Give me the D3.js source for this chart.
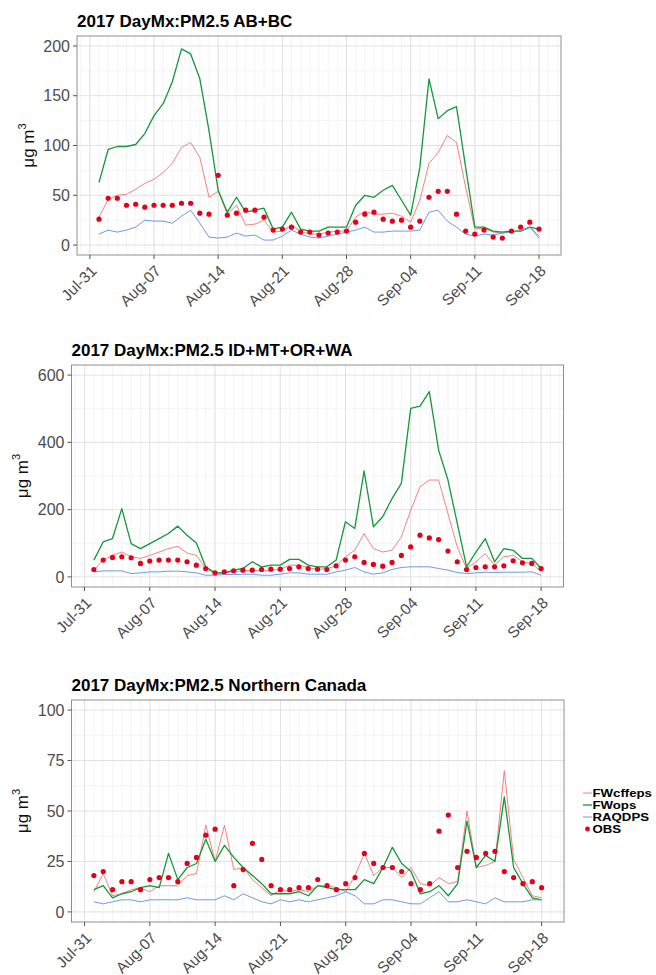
<!DOCTYPE html>
<html><head><meta charset="utf-8">
<script src="https://cdn.jsdelivr.net/npm/d3@7"></script>
<style>
body{margin:0;background:#fff}
svg{display:block}
text{font-family:"Liberation Sans",Arial,Helvetica,sans-serif}
</style>
</head><body>
<svg id="chart" width="656" height="975"></svg>
<script>
// ---------------- DATA ----------------
const dates = ["2017-08-01","2017-08-02","2017-08-03","2017-08-04","2017-08-05","2017-08-06","2017-08-07",
"2017-08-08","2017-08-09","2017-08-10","2017-08-11","2017-08-12","2017-08-13","2017-08-14",
"2017-08-15","2017-08-16","2017-08-17","2017-08-18","2017-08-19","2017-08-20","2017-08-21",
"2017-08-22","2017-08-23","2017-08-24","2017-08-25","2017-08-26","2017-08-27","2017-08-28",
"2017-08-29","2017-08-30","2017-08-31","2017-09-01","2017-09-02","2017-09-03","2017-09-04",
"2017-09-05","2017-09-06","2017-09-07","2017-09-08","2017-09-09","2017-09-10","2017-09-11",
"2017-09-12","2017-09-13","2017-09-14","2017-09-15","2017-09-16","2017-09-17","2017-09-18"];

const tickDates = ["2017-07-31","2017-08-07","2017-08-14","2017-08-21","2017-08-28","2017-09-04","2017-09-11","2017-09-18"];
const tickLabels = ["Jul-31","Aug-07","Aug-14","Aug-21","Aug-28","Sep-04","Sep-11","Sep-18"];

const seriesNames = ["FWcffeps","FWops","RAQDPS","OBS"];
const panelTitles = ["2017 DayMx:PM2.5 AB+BC","2017 DayMx:PM2.5 ID+MT+OR+WA","2017 DayMx:PM2.5 Northern Canada"];

// Panel 1: AB+BC
const abbcFWcffeps = [28,46,50,51,56,62,66,73,82,98,103,88,48,54,31,40,20,21,25,13,14,20,14,11,11,13,
  14,14,28,34,31,31,32,29,23,45,82,93,110,103,58,16,17,13,12,14,14,18,9];
const abbcFWops = [63,96,99,99,101,112,130,142,164,197,192,167,115,55,33,48,33,35,37,16,18,33,16,14,14,18,
  18,18,40,50,48,55,60,45,30,78,167,127,135,139,78,18,18,14,13,14,14,18,16];
const abbcRAQDPS = [11,15,13,15,18,25,24,24,22,29,35,22,8,7,8,12,9,10,5,5,9,15,11,8,7,9,
  11,13,15,18,13,13,14,14,14,15,33,35,24,18,11,9,11,10,12,13,14,18,7];
const abbcOBS = [26,47,47,40,41,38,40,40,40,42,42,32,31,70,30,32,35,35,28,15,16,18,13,13,10,12,
  13,14,23,31,33,26,24,25,18,24,48,54,54,31,14,11,15,8,7,14,18,23,16];

// Panel 2: ID+MT+OR+WA
const pnwFWcffeps = [20,50,64,74,60,55,64,74,84,91,71,64,25,10,12,15,18,20,18,20,22,35,35,28,22,25,
  32,60,79,129,84,74,79,119,198,268,288,288,188,89,25,45,69,35,60,64,45,40,15];
const pnwFWops = [50,104,114,203,99,84,99,114,129,151,124,101,30,12,12,20,25,45,30,35,35,52,52,35,30,30,
  50,164,144,315,149,179,233,278,501,508,551,377,288,159,30,74,114,45,84,79,55,55,25];
const pnwRAQDPS = [15,18,18,18,10,12,15,15,17,17,15,12,5,5,7,7,8,8,5,5,8,12,12,8,8,8,
  15,20,28,15,8,12,22,28,30,30,30,25,20,13,10,12,14,13,14,14,14,15,5];
const pnwOBS = [22,50,58,60,57,40,47,50,50,50,45,35,25,12,15,18,20,20,22,23,23,25,30,25,23,22,
  33,50,60,43,37,32,43,64,89,124,116,111,77,45,22,28,30,30,33,48,42,40,25];

// Panel 3: Northern Canada
const ncFWcffeps = [10,19,8,9,11,12,10,13,13,13,18,19,43,25,43,21,22,16,12,8,11,10,11,10,13,13,
  12,10,18,29,18,22,22,17,22,14,13,17,14,15,50,22,23,25,70,26,17,8,7];
const ncFWops = [11,13,7,9,10,12,13,12,29,16,22,24,36,25,33,27,22,18,14,9,9,9,10,8,13,12,
  11,11,11,16,14,22,32,24,20,9,10,13,8,14,45,22,28,25,57,22,14,7,6];
const ncRAQDPS = [5,4,5,6,6,5,6,6,6,6,7,6,6,6,8,6,9,7,5,4,6,5,6,5,6,7,
  8,10,8,4,4,6,6,5,4,4,7,10,5,5,6,5,4,7,5,5,5,6,6];
const ncOBS = [18,20,11,15,15,11,16,17,17,15,24,27,38,41,null,13,21,34,26,13,11,11,12,12,16,13,
  11,14,17,29,24,22,22,20,14,11,14,40,48,22,30,27,29,30,20,17,14,15,12];

const yLimits = [[0,200],[0,600],[0,100]];
const yMajor = [[0,50,100,150,200],[0,200,400,600],[0,25,50,75,100]];
const yMinor = [[25,75,125,175],[100,300,500],[12.5,37.5,62.5,87.5]];

// ---------------- LAYOUT / STYLE ----------------
const colors = {FWcffeps:"#f07474", FWops:"#13983a", RAQDPS:"#5b90e4", OBS:"#e3001b"};
const widths = {FWcffeps:0.9, FWops:1.3, RAQDPS:0.9};
const panels = [
  {left:77, right:561, top:36, bottom:255, ytitleX:28, title:panelTitles[0],
   series:[abbcFWcffeps,abbcFWops,abbcRAQDPS,abbcOBS]},
  {left:71.5, right:563.5, top:365, bottom:587, ytitleX:22, title:panelTitles[1],
   series:[pnwFWcffeps,pnwFWops,pnwRAQDPS,pnwOBS]},
  {left:71.5, right:564, top:700, bottom:922, ytitleX:22, title:panelTitles[2],
   series:[ncFWcffeps,ncFWops,ncRAQDPS,ncOBS]}
];

const svg = d3.select("#chart");
const parse = d3.utcParse("%Y-%m-%d");
const xDates = dates.map(parse);
const dayMs = 86400000;
const xMin = d3.min(xDates), xMax = d3.max(xDates);
const xPad = (xMax - xMin) * 0.05;
const allDays = d3.utcDay.range(new Date(+xMin - xPad), new Date(+xMax + xPad + dayMs));

panels.forEach((p, i) => {
  const lim = yLimits[i];
  const yPad = (lim[1] - lim[0]) * 0.05;
  const x = d3.scaleUtc().domain([new Date(+xMin - xPad), new Date(+xMax + xPad)]).range([p.left, p.right]);
  const y = d3.scaleLinear().domain([lim[0] - yPad, lim[1] + yPad]).range([p.bottom, p.top]);
  const g = svg.append("g");

  g.append("rect").attr("x", p.left).attr("y", p.top).attr("width", p.right - p.left).attr("height", p.bottom - p.top).attr("fill", "#fff");

  // minor grid
  g.append("g").selectAll("line").data(allDays.filter(d => x(d) > p.left && x(d) < p.right)).join("line")
    .attr("x1", d => x(d)).attr("x2", d => x(d)).attr("y1", p.top).attr("y2", p.bottom)
    .attr("stroke", "#f1f1f1").attr("stroke-width", 0.8);
  g.append("g").selectAll("line").data(yMinor[i]).join("line")
    .attr("x1", p.left).attr("x2", p.right).attr("y1", d => y(d)).attr("y2", d => y(d))
    .attr("stroke", "#f1f1f1").attr("stroke-width", 0.8);
  // major grid
  const tks = tickDates.map(parse);
  g.append("g").selectAll("line").data(tks).join("line")
    .attr("x1", d => x(d)).attr("x2", d => x(d)).attr("y1", p.top).attr("y2", p.bottom)
    .attr("stroke", "#e2e2e2").attr("stroke-width", 1);
  g.append("g").selectAll("line").data(yMajor[i]).join("line")
    .attr("x1", p.left).attr("x2", p.right).attr("y1", d => y(d)).attr("y2", d => y(d))
    .attr("stroke", "#e2e2e2").attr("stroke-width", 1);

  // lines
  seriesNames.slice(0, 3).forEach((name, k) => {
    const vals = p.series[k];
    const line = d3.line().defined(d => d[1] != null).x(d => x(d[0])).y(d => y(d[1]));
    g.append("path").datum(xDates.map((d, j) => [d, vals[j]]))
      .attr("d", line).attr("fill", "none")
      .attr("stroke", colors[name]).attr("stroke-width", widths[name]).attr("stroke-linejoin", "round");
  });
  // points
  const obs = p.series[3];
  g.append("g").selectAll("circle").data(xDates.map((d, j) => [d, obs[j]]).filter(d => d[1] != null)).join("circle")
    .attr("cx", d => x(d[0])).attr("cy", d => y(d[1])).attr("r", 2.6).attr("fill", colors.OBS);

  // border
  g.append("rect").attr("x", p.left).attr("y", p.top).attr("width", p.right - p.left).attr("height", p.bottom - p.top)
    .attr("fill", "none").attr("stroke", "#8f8f8f").attr("stroke-width", 1);

  // y axis
  const ya = g.append("g");
  ya.selectAll("line").data(yMajor[i]).join("line")
    .attr("x1", p.left - 4).attr("x2", p.left).attr("y1", d => y(d)).attr("y2", d => y(d))
    .attr("stroke", "#555").attr("stroke-width", 1);
  ya.selectAll("text").data(yMajor[i]).join("text")
    .attr("x", p.left - 7).attr("y", d => y(d)).attr("dy", "0.36em")
    .attr("text-anchor", "end").attr("font-size", 16).attr("fill", "#4d4d4d")
    .text(d => d3.format("d")(d));

  // x axis
  const xa = g.append("g");
  xa.selectAll("line").data(tks).join("line")
    .attr("x1", d => x(d)).attr("x2", d => x(d)).attr("y1", p.bottom).attr("y2", p.bottom + 4)
    .attr("stroke", "#555").attr("stroke-width", 1);
  const fs = 15.5, cap = 0.716 * fs * 0.7071;
  xa.selectAll("text").data(tks).join("text")
    .attr("transform", d => `translate(${x(d) + cap},${p.bottom + 9 + cap}) rotate(-45)`)
    .attr("text-anchor", "end").attr("font-size", fs).attr("fill", "#4d4d4d")
    .text((d, j) => tickLabels[j]);

  // y title
  const yt = g.append("text")
    .attr("transform", `translate(${p.ytitleX},${(p.top + p.bottom) / 2}) rotate(-90)`)
    .attr("text-anchor", "middle").attr("dy", "0.36em").attr("font-size", 17).attr("fill", "#111");
  yt.append("tspan").text("\u03bcg m");
  yt.append("tspan").attr("font-size", 11).attr("dy", "-0.7em").text("3");

  // title
  g.append("text").attr("x", p.left).attr("y", p.top - 9)
    .attr("font-size", 17).attr("font-weight", "bold").attr("fill", "#000")
    .text(p.title);
});

// legend
const leg = svg.append("g");
const legY0 = 793, legStep = 12;
seriesNames.forEach((name, k) => {
  const yy = legY0 + k * legStep;
  if (name === "OBS") {
    leg.append("circle").attr("cx", 587.5).attr("cy", yy).attr("r", 2.4).attr("fill", colors[name]);
  } else {
    leg.append("line").attr("x1", 583).attr("x2", 592).attr("y1", yy).attr("y2", yy)
      .attr("stroke", colors[name]).attr("stroke-width", widths[name]);
  }
  leg.append("text").attr("transform", `translate(592.5,${yy}) scale(1.15,1)`).attr("dy", "0.36em")
    .attr("font-size", 11.5).attr("font-weight", "bold").attr("fill", "#000").text(name);
});
</script>
</body></html>
